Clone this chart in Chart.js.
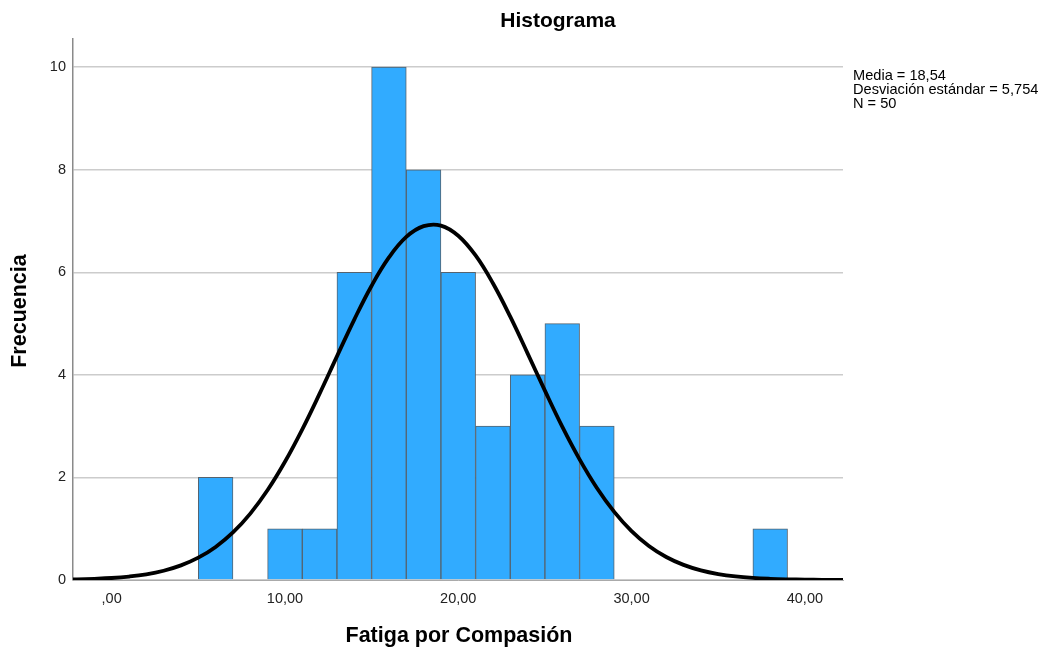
<!DOCTYPE html>
<html>
<head>
<meta charset="utf-8">
<script src="https://cdn.jsdelivr.net/npm/chart.js@4"></script>
<style>
html,body{margin:0;padding:0;background:#fff;}
#wrap{position:relative;width:1042px;height:648px;}
</style>
</head>
<body>
<div id="wrap"><canvas id="c" width="1042" height="648"></canvas></div>
<script>
// Histogram bins (centers) and counts
const binCenters = [6, 10, 12, 14, 16, 18, 20, 22, 24, 26, 28, 38];
const binCounts  = [2, 1, 1, 6, 10, 8, 6, 3, 4, 5, 3, 1];
// Normal curve
const curveX = [-3,-2,-1,0,1,2,3,4,5,6,7,8,9,10,11,12,13,14,15,16,17,18,19,20,21,22,23,24,25,26,27,28,29,30,31,32,33,34,35,36,37,38,39,40,41,42,43];
const curveY = [0.006,0.012,0.023,0.039,0.067,0.111,0.181,0.285,0.435,0.645,0.928,1.295,1.754,2.305,2.938,3.634,4.361,5.079,5.739,6.29,6.69,6.90,6.912,6.714,6.329,5.787,5.135,4.42,3.692,2.99,2.353,1.795,1.329,0.954,0.664,0.449,0.295,0.188,0.116,0.069,0.040,0.023,0.013,0.007,0.004,0.002,0.001];
const xTicks = [0, 10, 20, 30, 40];
const yTicks = [0, 2, 4, 6, 8, 10];
const titleText = "Histograma";
const xTitle = "Fatiga por Compasión";
const yTitle = "Frecuencia";
const statsLines = ["Media = 18,54", "Desviación estándar = 5,754", "N = 50"];

const FONT = "'Liberation Sans', Arial, sans-serif";

const textPlugin = {
  id: 'texts',
  afterDraw(chart) {
    const ctx = chart.ctx;
    ctx.save();
    ctx.fillStyle = '#000';
    ctx.font = "bold 21px " + FONT;
    ctx.textAlign = 'center';
    ctx.textBaseline = 'middle';
    ctx.fillText(titleText, 558, 21);
    ctx.font = "bold 21.5px " + FONT;
    ctx.fillText(xTitle, 459, 636);
    ctx.save();
    ctx.translate(20, 311);
    ctx.rotate(-Math.PI / 2);
    ctx.fillText(yTitle, 0, 0);
    ctx.restore();
    ctx.font = "14.6px " + FONT;
    ctx.textAlign = 'left';
    ctx.textBaseline = 'alphabetic';
    statsLines.forEach((s, i) => ctx.fillText(s, 853, 80 + i * 14));
    ctx.restore();
  }
};

new Chart(document.getElementById('c'), {
  data: {
    datasets: [
      {
        type: 'line',
        data: curveX.map((x, i) => ({x: x, y: curveY[i]})),
        borderColor: '#000',
        borderWidth: 3.8,
        pointRadius: 0,
        tension: 0.4,
        fill: false,
        order: 0
      },
      {
        type: 'bar',
        data: binCenters.map((x, i) => ({x: x, y: binCounts[i]})),
        backgroundColor: '#31abff',
        borderColor: '#56636e',
        borderWidth: 1,
        barPercentage: 1,
        categoryPercentage: 1,
        order: 1
      }
    ]
  },
  options: {
    responsive: false,
    animation: false,
    events: [],
    layout: { padding: { left: 0, top: 39, right: 199, bottom: 0 } },
    plugins: { legend: { display: false }, tooltip: { enabled: false }, title: { display: false } },
    scales: {
      x: {
        type: 'linear',
        min: -2.23,
        max: 42.2,
        offset: false,
        grid: { display: false, drawTicks: false },
        border: { display: true, color: '#aaaaaa', width: 1 },
        afterBuildTicks: s => { s.ticks = xTicks.map(v => ({value: v})); },
        afterFit: s => { s.height = 68; },
        ticks: {
          padding: 10,
          color: '#222',
          font: { family: FONT, size: 14.5 },
          maxRotation: 0,
          callback: v => (v === 0 ? '' : String(v)) + ',00'
        }
      },
      y: {
        type: 'linear',
        min: 0,
        max: 10.55,
        grid: { color: '#cccccc', lineWidth: 1.5, drawTicks: false },
        border: { display: true, color: '#8a8a8a', width: 1.5 },
        afterBuildTicks: s => { s.ticks = yTicks.map(v => ({value: v})); },
        afterFit: s => { s.width = 73; },
        ticks: {
          padding: 7,
          color: '#222',
          font: { family: FONT, size: 14.5 }
        }
      }
    }
  },
  plugins: [textPlugin]
});
</script>
</body>
</html>
